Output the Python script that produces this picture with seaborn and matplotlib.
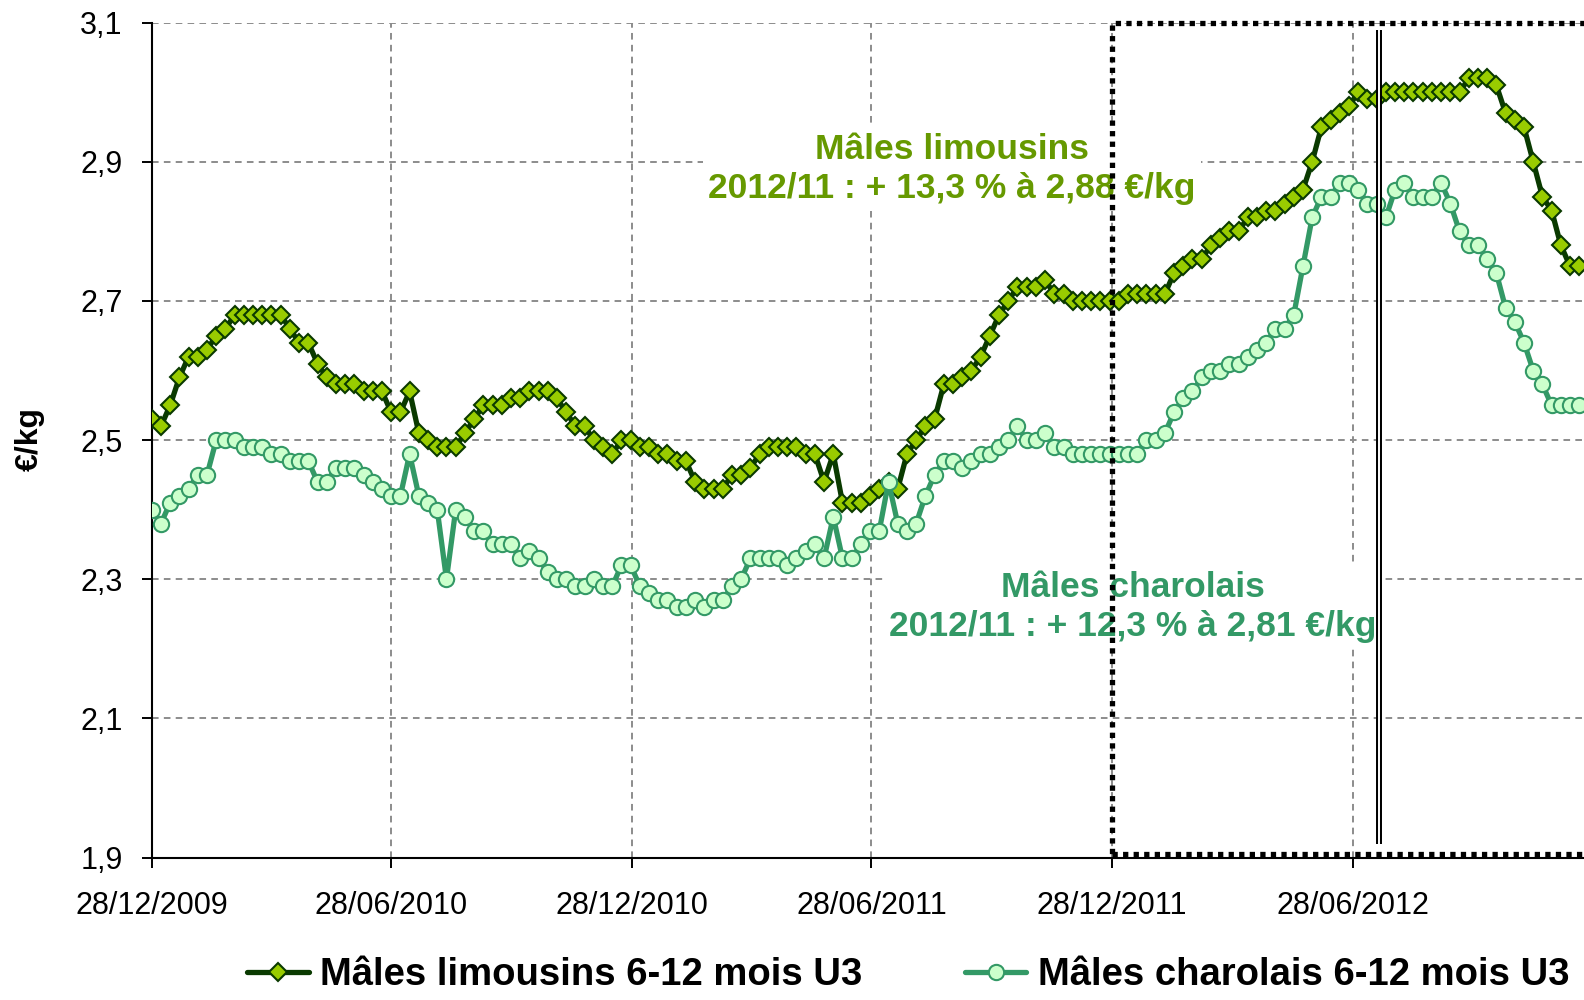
import numpy as np
import pandas as pd
import matplotlib
matplotlib.use('Agg')
import matplotlib.pyplot as plt
import matplotlib.dates as mdates
from matplotlib.patches import Rectangle
import seaborn as sns

# weekly prices (€/kg), first week 28/12/2009
debut = '2009-12-28'

limousins = [
    2.53, 2.52, 2.55, 2.59, 2.62, 2.62, 2.63, 2.65, 2.66, 2.68,
    2.68, 2.68, 2.68, 2.68, 2.68, 2.66, 2.64, 2.64, 2.61, 2.59,
    2.58, 2.58, 2.58, 2.57, 2.57, 2.57, 2.54, 2.54, 2.57, 2.51,
    2.50, 2.49, 2.49, 2.49, 2.51, 2.53, 2.55, 2.55, 2.55, 2.56,
    2.56, 2.57, 2.57, 2.57, 2.56, 2.54, 2.52, 2.52, 2.50, 2.49,
    2.48, 2.50, 2.50, 2.49, 2.49, 2.48, 2.48, 2.47, 2.47, 2.44,
    2.43, 2.43, 2.43, 2.45, 2.45, 2.46, 2.48, 2.49, 2.49, 2.49,
    2.49, 2.48, 2.48, 2.44, 2.48, 2.41, 2.41, 2.41, 2.42, 2.43,
    2.44, 2.43, 2.48, 2.50, 2.52, 2.53, 2.58, 2.58, 2.59, 2.60,
    2.62, 2.65, 2.68, 2.70, 2.72, 2.72, 2.72, 2.73, 2.71, 2.71,
    2.70, 2.70, 2.70, 2.70, 2.70, 2.70, 2.71, 2.71, 2.71, 2.71,
    2.71, 2.74, 2.75, 2.76, 2.76, 2.78, 2.79, 2.80, 2.80, 2.82,
    2.82, 2.83, 2.83, 2.84, 2.85, 2.86, 2.90, 2.95, 2.96, 2.97,
    2.98, 3.00, 2.99, 2.99, 3.00, 3.00, 3.00, 3.00, 3.00, 3.00,
    3.00, 3.00, 3.00, 3.02, 3.02, 3.02, 3.01, 2.97, 2.96, 2.95,
    2.90, 2.85, 2.83, 2.78, 2.75, 2.75,
]

charolais = [
    2.40, 2.38, 2.41, 2.42, 2.43, 2.45, 2.45, 2.50, 2.50, 2.50,
    2.49, 2.49, 2.49, 2.48, 2.48, 2.47, 2.47, 2.47, 2.44, 2.44,
    2.46, 2.46, 2.46, 2.45, 2.44, 2.43, 2.42, 2.42, 2.48, 2.42,
    2.41, 2.40, 2.30, 2.40, 2.39, 2.37, 2.37, 2.35, 2.35, 2.35,
    2.33, 2.34, 2.33, 2.31, 2.30, 2.30, 2.29, 2.29, 2.30, 2.29,
    2.29, 2.32, 2.32, 2.29, 2.28, 2.27, 2.27, 2.26, 2.26, 2.27,
    2.26, 2.27, 2.27, 2.29, 2.30, 2.33, 2.33, 2.33, 2.33, 2.32,
    2.33, 2.34, 2.35, 2.33, 2.39, 2.33, 2.33, 2.35, 2.37, 2.37,
    2.44, 2.38, 2.37, 2.38, 2.42, 2.45, 2.47, 2.47, 2.46, 2.47,
    2.48, 2.48, 2.49, 2.50, 2.52, 2.50, 2.50, 2.51, 2.49, 2.49,
    2.48, 2.48, 2.48, 2.48, 2.48, 2.48, 2.48, 2.48, 2.50, 2.50,
    2.51, 2.54, 2.56, 2.57, 2.59, 2.60, 2.60, 2.61, 2.61, 2.62,
    2.63, 2.64, 2.66, 2.66, 2.68, 2.75, 2.82, 2.85, 2.85, 2.87,
    2.87, 2.86, 2.84, 2.84, 2.82, 2.86, 2.87, 2.85, 2.85, 2.85,
    2.87, 2.84, 2.80, 2.78, 2.78, 2.76, 2.74, 2.69, 2.67, 2.64,
    2.60, 2.58, 2.55, 2.55, 2.55, 2.55,
]

dates = pd.date_range(debut, periods=len(limousins), freq='7D')

ticks_x = ['2009-12-28', '2010-06-28', '2010-12-28', '2011-06-28', '2011-12-28', '2012-06-28']
labels_x = ['28/12/2009', '28/06/2010', '28/12/2010', '28/06/2011', '28/12/2011', '28/06/2012']
ticks_y = [1.9, 2.1, 2.3, 2.5, 2.7, 2.9, 3.1]

nom_lim = 'Mâles limousins 6-12 mois U3'
nom_cha = 'Mâles charolais 6-12 mois U3'
texte_lim = 'Mâles limousins\n2012/11 : + 13,3 % à 2,88 €/kg'
texte_cha = 'Mâles charolais\n2012/11 : + 12,3 % à 2,81 €/kg'

sns.set_style('white')
plt.rcParams['font.family'] = ['Liberation Sans', 'DejaVu Sans']
plt.rcParams['text.color'] = 'black'
plt.rcParams['xtick.color'] = 'black'
plt.rcParams['ytick.color'] = 'black'

fig = plt.figure(figsize=(15.84, 10), dpi=100)
ax = fig.add_axes([0.0958, 0.1425, 0.9042, 0.8348])

sns.lineplot(x=dates, y=limousins, ax=ax, color='#0a3a00', linewidth=3.8,
             marker='D', markersize=8.8, markerfacecolor='#99cc00',
             markeredgecolor='#0a3a00', markeredgewidth=1.5, label=nom_lim, zorder=3)
sns.lineplot(x=dates, y=charolais, ax=ax, color='#339966', linewidth=3.8,
             marker='o', markersize=11, markerfacecolor='#ccffcc',
             markeredgecolor='#339966', markeredgewidth=1.5, label=nom_cha, zorder=3)

# axes
t0 = pd.Timestamp(debut)
ax.set_xlim(t0, t0 + pd.Timedelta(days=1088.6))
ax.set_ylim(1.9, 3.1)
ax.set_xticks(pd.to_datetime(ticks_x))
ax.set_xticklabels(labels_x, fontsize=22)
ax.set_yticks(ticks_y)
ax.set_yticklabels([f'{v:.1f}'.replace('.', ',') for v in ticks_y], fontsize=22)
ax.tick_params(axis='both', direction='out', length=7, width=1.4, color='black',
               bottom=True, left=True)
ax.tick_params(axis='x', pad=17)
ax.tick_params(axis='y', pad=14)
ax.set_xlabel('')
ax.set_ylabel('')

for s in ['top', 'right']:
    ax.spines[s].set_visible(False)
for s in ['left', 'bottom']:
    ax.spines[s].set_color('black')
    ax.spines[s].set_linewidth(1.5)

ax.grid(True, color='#8c8c8c', linestyle=(0, (3.4, 2.7)), linewidth=1.4)
ax.set_axisbelow(True)

# cadre pointillé sur la dernière année
x0 = mdates.date2num(pd.Timestamp('2011-12-28'))
x1 = mdates.date2num(pd.Timestamp('2013-03-01'))
ax.add_patch(Rectangle((x0, 1.905), x1 - x0, 3.1 - 1.905, fill=False, edgecolor='black',
                       linewidth=3.8, linestyle=(0, (1, 1)), clip_on=False, zorder=4))

# double trait vertical
d = pd.Timestamp('2012-07-18')
ax.plot([d, d], [1.92, 3.089], color='black', linewidth=4.3, solid_capstyle='butt', zorder=5)
ax.plot([d, d], [1.92, 3.089], color='white', linewidth=1.4, solid_capstyle='butt', zorder=5)

# annotations
ax.text(0.5588, 0.8248, texte_lim, transform=ax.transAxes, ha='center', va='center',
        fontsize=25.5, fontweight='bold', color='#669900', linespacing=1.25, zorder=1,
        bbox=dict(facecolor='white', edgecolor='none', pad=4))
ax.text(0.6851, 0.3001, texte_cha, transform=ax.transAxes, ha='center', va='center',
        fontsize=25.5, fontweight='bold', color='#339966', linespacing=1.25, zorder=1,
        bbox=dict(facecolor='white', edgecolor='none', pad=4))

fig.text(30 / 1584, 1 - 439 / 1000, '€/kg', rotation=90, ha='center', va='center',
         fontsize=23, fontweight='bold')

handles, labels = ax.get_legend_handles_labels()
if ax.get_legend() is not None:
    ax.get_legend().remove()
fig.legend(handles, labels, loc='center', bbox_to_anchor=(0.5735, 0.025), ncol=2,
           frameon=False, prop={'weight': 'bold', 'size': 27.5}, handlelength=1.6,
           columnspacing=2.7, handletextpad=0.3)

fig.savefig('out.png', dpi=100)
